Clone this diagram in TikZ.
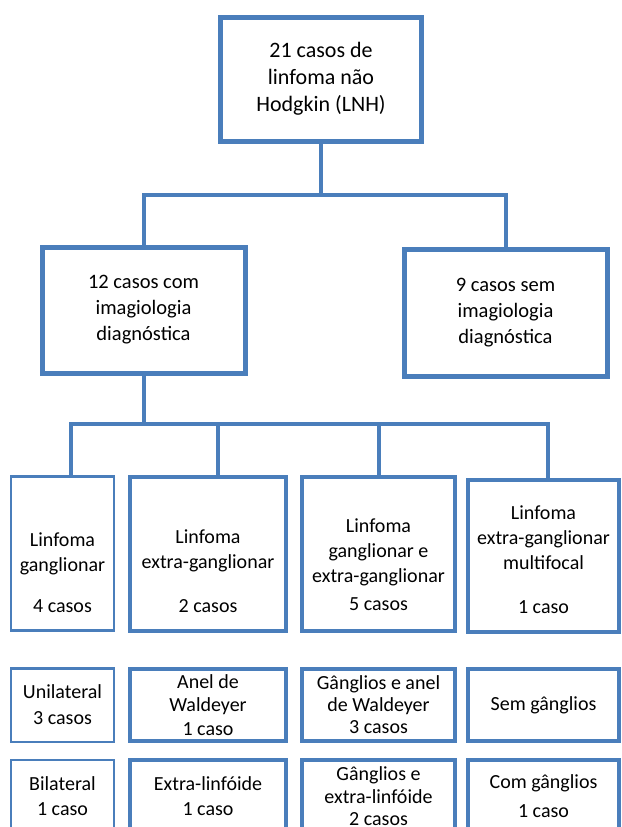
\documentclass[tikz,border=0pt]{standalone}
\usepackage{fontspec}
\setmainfont{Carlito}
\usepackage{xcolor}
\definecolor{azul}{RGB}{74,126,187}

\tikzset{
  caixa/.style={draw=azul, line width=4pt, rectangle, inner sep=0pt, outer sep=0pt,
    align=center, font=\fontsize{20}{24}\selectfont},
  fina/.style={line width=2.5pt},
  grossa/.style={line width=5pt},
  texto/.style={align=center, inner sep=0pt, font=\fontsize{20}{25}\selectfont},
  liga/.style={draw=azul, line width=4pt},
}

\begin{document}
\begin{tikzpicture}[x=1pt,y=-1pt]
\useasboundingbox (0,0) rectangle (621,827);

% topo
\node[caixa, grossa, minimum width=201pt, minimum height=124pt,
  font=\fontsize{22}{27}\selectfont] (lnh) at (321,79) {21 casos de\\linfoma não\\Hodgkin (LNH)};

% imagiologia
\node[caixa, grossa, minimum width=203pt, minimum height=126pt,
  font=\fontsize{20.5}{26}\selectfont] (comimg) at (143.5,310) {12 casos com\\imagiologia\\diagnóstica};
\node[caixa, grossa, minimum width=203pt, minimum height=127pt,
  font=\fontsize{20.5}{26}\selectfont] (semimg) at (505.5,312.5) {9 casos sem\\imagiologia\\diagnóstica};

\coordinate (b0) at (321,195);
\draw[liga] (lnh.south) -- (b0);
\draw[liga] (comimg.north) |- (b0) -| (semimg.north);

% tipos de linfoma
\node[caixa, fina, minimum width=103pt, minimum height=154pt] (gang) at (62.5,553.5) {};
\node[caixa, minimum width=156pt, minimum height=154pt] (extra) at (208,554) {};
\node[caixa, minimum width=153pt, minimum height=154pt] (gangext) at (378.5,554) {};
\node[caixa, minimum width=151pt, minimum height=152pt] (multi) at (543.5,556) {};

\node[texto] (gang-t) at (62.5,573) {Linfoma\\ganglionar\\[16pt]4 casos};
\node[texto] (extra-t) at (208,571) {Linfoma\\extra-ganglionar\\[19pt]2 casos};
\node[texto] (gangext-t) at (378.5,564.5) {Linfoma\\ganglionar e\\extra-ganglionar\\[3pt]5 casos};
\node[texto] (multi-t) at (543.5,559.5) {Linfoma\\extra-ganglionar\\multifocal\\[19pt]1 caso};

\coordinate (d1) at (71,424);
\coordinate (d2) at (218,424);
\coordinate (d3) at (379,424);
\coordinate (d4) at (548,424);
\draw[liga] (comimg.south) -- (comimg.south |- d1);
\draw[liga] (d1 |- gang.north) -- (d1) -- (d4) -- (d4 |- multi.north);
\draw[liga] (d2) -- (d2 |- extra.north);
\draw[liga] (d3) -- (d3 |- gangext.north);

% localizacao
\node[caixa, fina, minimum width=103pt, minimum height=73.5pt,
  font=\fontsize{20}{26}\selectfont] (unil) at (62.5,705) {Unilateral\\3 casos};
\node[caixa, minimum width=156pt, minimum height=72pt,
  font=\fontsize{20}{23.5}\selectfont] (anel) at (208,705) {Anel de\\Waldeyer\\1 caso};
\node[caixa, minimum width=153pt, minimum height=72pt,
  font=\fontsize{20}{22}\selectfont] (ganel) at (378.5,705) {Gânglios e anel\\de Waldeyer\\3 casos};
\node[caixa, minimum width=151pt, minimum height=72pt] (semg) at (543.5,705) {Sem gânglios};

\node[caixa, fina, minimum width=103pt, minimum height=73pt,
  font=\fontsize{20}{25}\selectfont] (bil) at (62.5,796.5) {Bilateral\\1 caso};
\node[caixa, minimum width=156pt, minimum height=73pt,
  font=\fontsize{20}{25}\selectfont] (extlin) at (208,796.5) {Extra-linfóide\\1 caso};
\node[caixa, minimum width=153pt, minimum height=73pt,
  font=\fontsize{20}{22.5}\selectfont] (gextlin) at (378.5,796.5) {Gânglios e\\extra-linfóide\\2 casos};
\node[caixa, minimum width=151pt, minimum height=73pt,
  font=\fontsize{20}{29}\selectfont] (comg) at (543.5,796.5) {Com gânglios\\1 caso};
\end{tikzpicture}
\end{document}
